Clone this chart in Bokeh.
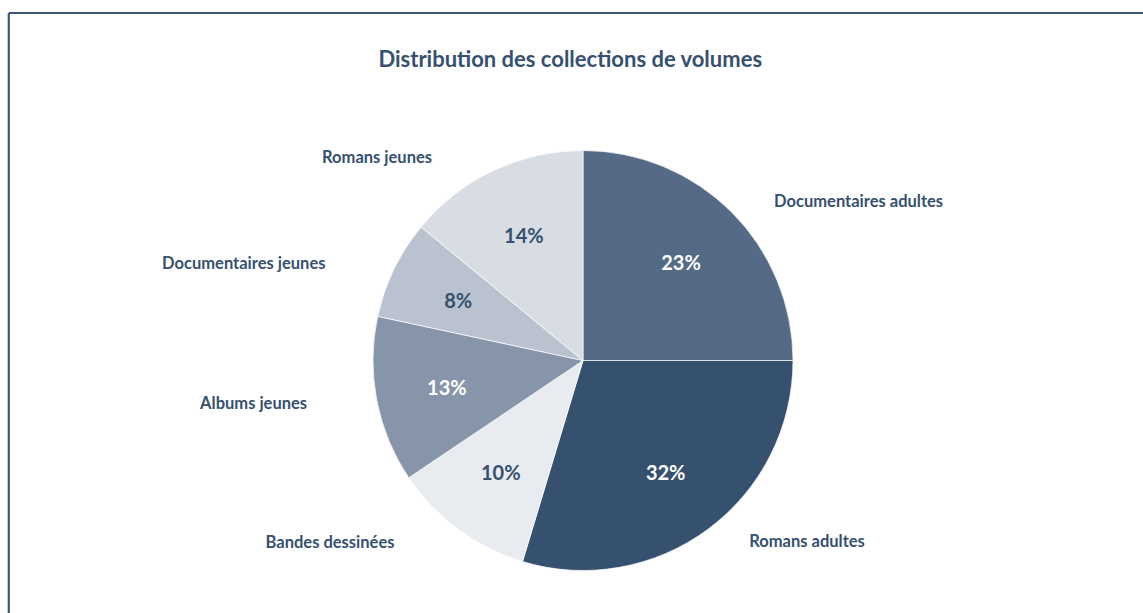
import numpy as np
from bokeh.plotting import figure
from bokeh.models import Range1d, ColumnDataSource
from bokeh.core.properties import value
from bokeh.embed import file_html
from bokeh.resources import INLINE

# ---- data ----
categories = ["Documentaires adultes", "Romans adultes", "Bandes dessinées",
              "Albums jeunes", "Documentaires jeunes", "Romans jeunes"]
shares = [25.0, 29.65, 10.92, 12.8, 7.6, 14.03]          # drawn slice sizes
pct_labels = ["23%", "32%", "10%", "13%", "8%", "14%"]   # printed labels
colors = ["#546a87", "#36506f", "#e8ebf0", "#8795aa", "#bac2cf", "#d8dde4"]
pct_colors = ["#ffffff", "#ffffff", "#36506f", "#ffffff", "#36506f", "#36506f"]
title_text = "Distribution des collections de volumes"

# ---- layout ----
W, H = 1143, 613
FONT = "Lato"
TXT = "#36506f"
cx, cy, R = 582.5, H - 360, 210

p = figure(width=W, height=H, x_range=Range1d(0, W), y_range=Range1d(0, H),
           output_backend="svg", toolbar_location=None, min_border=0,
           x_axis_location=None, y_axis_location=None)
p.grid.visible = False
p.outline_line_color = None
p.background_fill_color = "white"
p.border_fill_color = "white"

# frame border (top and left visible in the window)
p.segment(x0=[8.3, 8.3], y0=[H - 12.5, H - 12.5], x1=[W + 5, 8.3], y1=[H - 12.5, -5],
          line_color="#3f5679", line_width=2.2)

vals = np.array(shares, dtype=float)
frac = vals / vals.sum()
end_cw = np.cumsum(frac) * 2 * np.pi
start_cw = end_cw - frac * 2 * np.pi
mid_cw = (start_cw + end_cw) / 2

src = ColumnDataSource(dict(
    start=np.pi / 2 - end_cw, end=np.pi / 2 - start_cw, color=colors,
))
p.wedge(x=cx, y=cy, radius=R, start_angle="start", end_angle="end",
        fill_color="color", line_color="white", line_width=0.7, source=src)

# percentage labels inside slices
rin = 0.66 * R
p.text(x=list(cx + rin * np.sin(mid_cw)), y=list(cy + rin * np.cos(mid_cw)),
       text=pct_labels, text_color=pct_colors, text_font=value(FONT),
       text_font_style="bold", text_font_size="20px",
       text_align="center", text_baseline="middle")

# category labels outside
rout = R + 15
sx = np.sin(mid_cw)
lx = cx + rout * sx + np.where(sx >= 0, 32, -55)
ly = cy + rout * np.cos(mid_cw)
align = ["left" if s >= 0 else "right" for s in sx]
lsrc = ColumnDataSource(dict(x=lx, y=ly, t=categories, a=align))
p.text(x="x", y="y", text="t", source=lsrc, text_align="a",
       text_color=TXT, text_font=value(FONT), text_font_style="bold",
       text_font_size="16.5px", text_baseline="middle")

# title
p.text(x=[570], y=[H - 58], text=[title_text], text_color=TXT,
       text_font=value(FONT), text_font_style="bold", text_font_size="22px",
       text_align="center", text_baseline="middle")

open("out.html", "w").write(file_html(p, INLINE))
